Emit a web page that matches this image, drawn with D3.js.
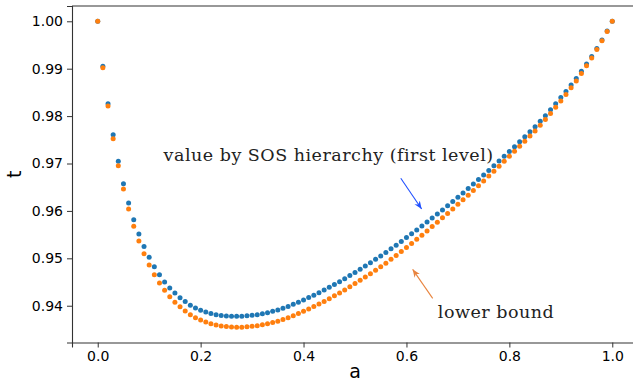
<!DOCTYPE html>
<html lang="en">
<head>
  <meta charset="UTF-8">
  <title>SOS hierarchy vs lower bound</title>
  <script src="https://d3js.org/d3.v7.min.js"></script>
  <style>
    body {
      margin: 0;
      padding: 0;
      background: #fff;
    }
    .tick text {
      font-family: "DejaVu Sans", sans-serif;
      font-size: 14px;
      fill: #000;
    }
    .axis-label {
      font-family: "DejaVu Sans", sans-serif;
      font-size: 19px;
      fill: #000;
    }
    .note {
      font-family: "DejaVu Serif", serif;
      font-size: 17.5px;
      letter-spacing: 0.5px;
      fill: #222;
    }
  </style>
</head>
<body>
  <div id="chart"></div>

  <script>
    // a values (x axis)
    const aValues = [
      0.00, 0.01, 0.02, 0.03, 0.04, 0.05, 0.06, 0.07, 0.08, 0.09,
      0.10, 0.11, 0.12, 0.13, 0.14, 0.15, 0.16, 0.17, 0.18, 0.19,
      0.20, 0.21, 0.22, 0.23, 0.24, 0.25, 0.26, 0.27, 0.28, 0.29,
      0.30, 0.31, 0.32, 0.33, 0.34, 0.35, 0.36, 0.37, 0.38, 0.39,
      0.40, 0.41, 0.42, 0.43, 0.44, 0.45, 0.46, 0.47, 0.48, 0.49,
      0.50, 0.51, 0.52, 0.53, 0.54, 0.55, 0.56, 0.57, 0.58, 0.59,
      0.60, 0.61, 0.62, 0.63, 0.64, 0.65, 0.66, 0.67, 0.68, 0.69,
      0.70, 0.71, 0.72, 0.73, 0.74, 0.75, 0.76, 0.77, 0.78, 0.79,
      0.80, 0.81, 0.82, 0.83, 0.84, 0.85, 0.86, 0.87, 0.88, 0.89,
      0.90, 0.91, 0.92, 0.93, 0.94, 0.95, 0.96, 0.97, 0.98, 0.99,
      1.00
    ];

    // value by SOS hierarchy (first level)
    const sosValues = [
      1.00000, 0.99051, 0.98262, 0.97608, 0.97046, 0.96574, 0.96167, 0.95814, 0.95514, 0.95252,
      0.95023, 0.94823, 0.94651, 0.94503, 0.94376, 0.94266, 0.94170, 0.94087, 0.94012, 0.93954,
      0.93906, 0.93866, 0.93834, 0.93810, 0.93793, 0.93782, 0.93777, 0.93776, 0.93779, 0.93786,
      0.93797, 0.93812, 0.93831, 0.93854, 0.93881, 0.93912, 0.93947, 0.93986, 0.94029, 0.94075,
      0.94123, 0.94172, 0.94223, 0.94276, 0.94331, 0.94388, 0.94447, 0.94508, 0.94571, 0.94636,
      0.94702, 0.94769, 0.94837, 0.94907, 0.94978, 0.95051, 0.95125, 0.95201, 0.95278, 0.95357,
      0.95438, 0.95518, 0.95599, 0.95681, 0.95764, 0.95849, 0.95935, 0.96022, 0.96110, 0.96199,
      0.96289, 0.96380, 0.96472, 0.96566, 0.96661, 0.96757, 0.96854, 0.96952, 0.97051, 0.97151,
      0.97252, 0.97355, 0.97459, 0.97564, 0.97670, 0.97778, 0.97891, 0.98009, 0.98133, 0.98261,
      0.98390, 0.98520, 0.98655, 0.98795, 0.98945, 0.99100, 0.99260, 0.99428, 0.99605, 0.99795,
      1.00000
    ];

    // lower bound
    const lowerValues = [
      1.00000, 0.99021, 0.98211, 0.97523, 0.96951, 0.96461, 0.96039, 0.95676, 0.95366, 0.95096,
      0.94860, 0.94655, 0.94478, 0.94324, 0.94190, 0.94075, 0.93976, 0.93888, 0.93812, 0.93749,
      0.93698, 0.93656, 0.93622, 0.93595, 0.93574, 0.93560, 0.93551, 0.93547, 0.93548, 0.93554,
      0.93565, 0.93579, 0.93597, 0.93619, 0.93645, 0.93675, 0.93709, 0.93748, 0.93790, 0.93836,
      0.93883, 0.93932, 0.93983, 0.94036, 0.94091, 0.94148, 0.94208, 0.94270, 0.94334, 0.94400,
      0.94467, 0.94535, 0.94604, 0.94675, 0.94747, 0.94821, 0.94898, 0.94978, 0.95059, 0.95142,
      0.95228, 0.95314, 0.95401, 0.95489, 0.95578, 0.95669, 0.95761, 0.95854, 0.95948, 0.96043,
      0.96139, 0.96235, 0.96332, 0.96431, 0.96531, 0.96632, 0.96734, 0.96837, 0.96941, 0.97046,
      0.97152, 0.97257, 0.97363, 0.97470, 0.97578, 0.97688, 0.97805, 0.97927, 0.98055, 0.98187,
      0.98320, 0.98456, 0.98597, 0.98743, 0.98899, 0.99060, 0.99228, 0.99404, 0.99589, 0.99787,
      1.00000
    ];

    const xTicks = [0.0, 0.2, 0.4, 0.6, 0.8, 1.0];
    const yTicks = [0.94, 0.95, 0.96, 0.97, 0.98, 0.99, 1.00];

    // annotation text and arrows, in data coordinates
    const notes = [
      { text: 'value by SOS hierarchy (first level)', a: 0.128, t: 0.9705,
        from: [0.589, 0.96688], to: [0.6295, 0.9604], color: '#1f4fff' },
      { text: 'lower bound', a: 0.661, t: 0.9374,
        from: [0.651, 0.94156], to: [0.612, 0.94768], color: '#e8843f' }
    ];

    const width = 633;
    const height = 381;
    const margin = { top: 6, right: -5, bottom: 38.5, left: 72 };

    const svg = d3.select('#chart')
      .append('svg')
      .attr('width', width)
      .attr('height', height);

    // matplotlib style 5% padding around the data
    const tMin = d3.min(lowerValues.concat(sosValues));
    const tMax = d3.max(lowerValues.concat(sosValues));
    const tPad = (tMax - tMin) * 0.05;

    const x = d3.scaleLinear()
      .domain([-0.05, 1.05])
      .range([margin.left, width - margin.right]);

    const y = d3.scaleLinear()
      .domain([tMin - tPad, tMax + tPad])
      .range([height - margin.bottom, margin.top]);

    // axes
    svg.append('g')
      .attr('transform', `translate(0,${height - margin.bottom})`)
      .call(d3.axisBottom(x).tickValues(xTicks).tickFormat(d3.format('.1f'))
        .tickSizeOuter(0).tickSize(5).tickPadding(4))
      .call(g => g.select('.domain').attr('stroke', '#333').attr('stroke-width', 1.1));

    svg.append('g')
      .attr('transform', `translate(${margin.left},0)`)
      .call(d3.axisLeft(y).tickValues(yTicks).tickFormat(d3.format('.2f'))
        .tickSizeOuter(0).tickSize(5).tickPadding(4))
      .call(g => g.select('.domain').attr('stroke', '#333').attr('stroke-width', 1.1));

    svg.selectAll('.tick line').attr('stroke', '#333').attr('stroke-width', 1);

    // top spine
    svg.append('line')
      .attr('x1', margin.left).attr('x2', width - margin.right)
      .attr('y1', margin.top).attr('y2', margin.top)
      .attr('stroke', '#333').attr('stroke-width', 1.1);

    // axis labels
    svg.append('text')
      .attr('class', 'axis-label')
      .attr('x', x(0.5))
      .attr('y', 378)
      .attr('text-anchor', 'middle')
      .text('a');

    svg.append('text')
      .attr('class', 'axis-label')
      .attr('transform', `translate(21,${(margin.top + height - margin.bottom) / 2}) rotate(-90)`)
      .attr('text-anchor', 'middle')
      .text('t');

    // scatter points
    const series = [
      { values: sosValues, color: '#1f77b4' },
      { values: lowerValues, color: '#ff7f0e' }
    ];

    series.forEach(s => {
      svg.append('g')
        .selectAll('circle')
        .data(aValues)
        .enter()
        .append('circle')
        .attr('cx', d => x(d))
        .attr('cy', (d, i) => y(s.values[i]))
        .attr('r', 2.5)
        .attr('fill', s.color);
    });

    // arrow heads
    const defs = svg.append('defs');
    notes.forEach((n, i) => {
      defs.append('marker')
        .attr('id', 'head' + i)
        .attr('viewBox', '0 0 10 10')
        .attr('refX', 10)
        .attr('refY', 5)
        .attr('markerWidth', 8)
        .attr('markerHeight', 8)
        .attr('markerUnits', 'userSpaceOnUse')
        .attr('orient', 'auto')
        .append('path')
        .attr('d', 'M0,1 L10,5 L0,9 L3,5 Z')
        .attr('fill', n.color);
    });

    notes.forEach((n, i) => {
      svg.append('line')
        .attr('x1', x(n.from[0])).attr('y1', y(n.from[1]))
        .attr('x2', x(n.to[0])).attr('y2', y(n.to[1]))
        .attr('stroke', n.color)
        .attr('stroke-width', 1.1)
        .attr('marker-end', `url(#head${i})`);

      svg.append('text')
        .attr('class', 'note')
        .attr('x', x(n.a))
        .attr('y', y(n.t))
        .text(n.text);
    });
  </script>
</body>
</html>
